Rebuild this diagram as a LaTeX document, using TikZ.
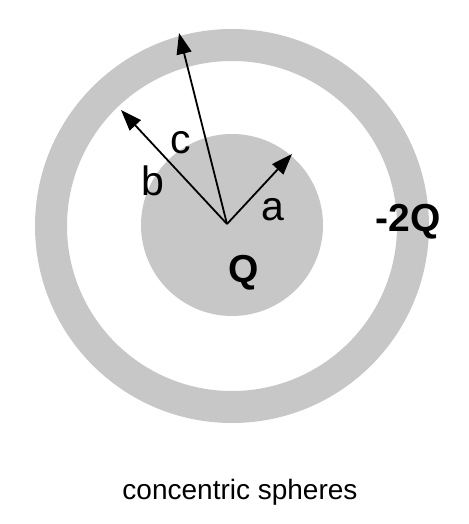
\documentclass[tikz,border=0pt]{standalone}
\usepackage{fontspec}
\setmainfont{Liberation Sans}
\usetikzlibrary{arrows.meta}
\definecolor{shell-grey}{HTML}{C7C7C7}

\begin{document}
\begin{tikzpicture}[x=1pt, y=-1pt,
        every node/.style={inner sep=0pt},
        vec/.style={line width=1.8pt, -{Triangle[length=21pt, width=15pt]}},
        lbl/.style={font=\fontsize{41}{44}\selectfont},
        charge/.style={font=\fontsize{39}{42}\selectfont\bfseries}]
      \useasboundingbox (0,0) rectangle (468,524);
      \fill[shell-grey, even odd rule] (232,226) circle[radius=197pt] (232,226) circle[radius=165pt];
      \fill[shell-grey] (232,225) circle[radius=91pt];
      \coordinate (O) at (227,224);
      \coordinate (tipA) at (292,154);
      \coordinate (tipB) at (121,110);
      \coordinate (tipC) at (179,33);
      \draw[vec] (O) -- (tipA);
      \draw[vec] (O) -- (tipB);
      \draw[vec] (O) -- (tipC);
      \node[lbl] (labA) at (273,210) {a};
      \node[lbl] (labB) at (153,181) {b};
      \node[lbl] (labC) at (181,143) {c};
      \node[charge] (inner) at (244,273) {Q};
      \node[charge] (outer) at (408,222) {-2Q};
      \node[font=\fontsize{28}{30}\selectfont] (caption) at (240,492) {concentric spheres};
    \end{tikzpicture}
\end{document}
